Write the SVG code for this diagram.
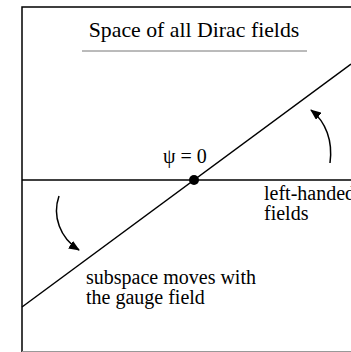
<svg xmlns="http://www.w3.org/2000/svg" width="351" height="352" viewBox="0 0 351 352">
<style>
text{font-family:"Liberation Serif","Times New Roman",serif;fill:#000;}
.t{font-size:20px;}
.ln{stroke:#000;stroke-width:1.5;fill:none;}
.arc{stroke:#000;stroke-width:1.5;fill:none;marker-end:url(#ah);}
</style>
<defs>
<marker id="ah" markerWidth="11" markerHeight="9" refX="10" refY="4.5" orient="auto" markerUnits="userSpaceOnUse">
<path d="M0,0 L11,4.5 L0,9 Z" fill="#000"/>
</marker>
</defs>
<g id="frame">
<path d="M22,352 V7 H360" fill="none" stroke="#000" stroke-width="1.5"/>
<line x1="22" y1="351.5" x2="351" y2="351.5" stroke="#999" stroke-width="1"/>
</g>
<g id="title">
<text x="194" y="37" text-anchor="middle" style="font-size:21.8px">Space of all Dirac fields</text>
<line x1="82" y1="51" x2="307" y2="51" stroke="#777" stroke-width="1"/>
</g>
<g id="connectors">
<line class="ln" x1="22" y1="180" x2="351" y2="180"/>
<line class="ln" x1="22" y1="307" x2="351" y2="64"/>
<path class="arc" d="M59,196 C52,216 60,238 79,250"/>
<path class="arc" d="M330,163 C333,141 326,122 311,110"/>
</g>
<g id="origin">
<circle cx="194" cy="180" r="5" fill="#000"/>
<text class="t" x="163" y="163">ψ = 0</text>
</g>
<g id="left-handed">
<text class="t" x="264" y="200">left-handed</text>
<text class="t" x="264" y="220">fields</text>
</g>
<g id="subspace">
<text class="t" x="86" y="284">subspace moves with</text>
<text class="t" x="86" y="304">the gauge field</text>
</g>
</svg>
